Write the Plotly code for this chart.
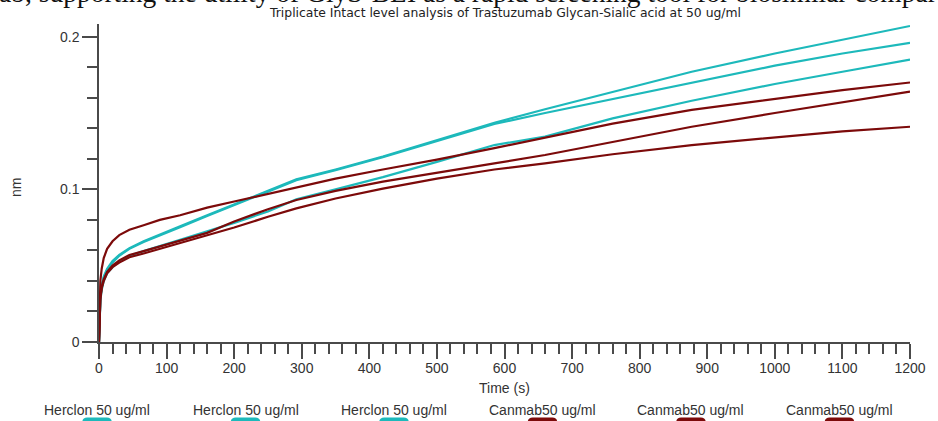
import plotly.graph_objects as go

# ---- data ----
time_s = [0, 1, 2, 4, 7, 12, 20, 30, 45, 66, 90, 120, 160, 200, 250, 292, 350,
          420, 500, 585, 660, 760, 877, 1000, 1100, 1200]

herclon_1 = [0, 0.020, 0.030, 0.037, 0.043, 0.048, 0.053, 0.057, 0.0615, 0.066, 0.0705,
             0.0758, 0.083, 0.0903, 0.099, 0.1065, 0.113, 0.1215, 0.132, 0.1435, 0.1525,
             0.164, 0.177, 0.189, 0.198, 0.207]
herclon_2 = [0, 0.019, 0.029, 0.036, 0.042, 0.047, 0.052, 0.0565, 0.061, 0.0655, 0.070,
             0.0752, 0.0825, 0.0898, 0.0985, 0.106, 0.1125, 0.121, 0.1315, 0.1428, 0.150,
             0.159, 0.170, 0.181, 0.189, 0.196]
herclon_3 = [0, 0.018, 0.027, 0.034, 0.040, 0.045, 0.049, 0.053, 0.0565, 0.0595, 0.063,
             0.067, 0.0725, 0.078, 0.0855, 0.0935, 0.100, 0.108, 0.118, 0.129, 0.1345,
             0.1465, 0.158, 0.169, 0.177, 0.185]
canmab_1 = [0, 0.030, 0.040, 0.048, 0.055, 0.061, 0.066, 0.070, 0.0735, 0.0765, 0.080,
            0.083, 0.088, 0.092, 0.097, 0.1015, 0.107, 0.113, 0.1195, 0.127, 0.134,
            0.143, 0.152, 0.159, 0.165, 0.170]
canmab_2 = [0, 0.020, 0.029, 0.036, 0.041, 0.046, 0.050, 0.0535, 0.057, 0.0595, 0.0625,
            0.066, 0.0715, 0.079, 0.087, 0.093, 0.099, 0.105, 0.111, 0.117, 0.1225,
            0.131, 0.141, 0.150, 0.157, 0.164]
canmab_3 = [0, 0.019, 0.028, 0.035, 0.040, 0.045, 0.049, 0.052, 0.0555, 0.058, 0.061,
            0.065, 0.070, 0.075, 0.082, 0.0875, 0.094, 0.1005, 0.107, 0.113, 0.117,
            0.123, 0.129, 0.134, 0.138, 0.141]

series = [herclon_1, herclon_2, herclon_3, canmab_1, canmab_2, canmab_3]
series_names = ["Herclon 50 ug/ml"] * 3 + ["Canmab50 ug/ml"] * 3

y_tickvals = [0, 0.1, 0.2]
y_ticktext = ["0", "0.1", "0.2"]
x_tickvals = list(range(0, 1201, 100))

title_text = "Triplicate Intact level analysis of Trastuzumab Glycan-Sialic acid at 50 ug/ml"
page_text = "ab, supporting the utility of GlyS-BLI as a rapid screening tool for biosimilar compar"

# ---- styling ----
CYAN = "#1DB9BB"
RED = "#7C0A0A"
colors = [CYAN] * 3 + [RED] * 3
FONT = "Liberation Sans, Arial, sans-serif"
AX = "#4a4a4a"

W, H = 938, 421
L, R, T, B = 99, 921, 24, 342


def px2x(px):
    return (px - L) / (R - L)


def py2y(py):
    return (B - py) / (B - T)


fig = go.Figure()
for vals, name, col in zip(series, series_names, colors):
    fig.add_trace(go.Scatter(x=time_s, y=vals, mode="lines", name=name,
                             line=dict(color=col, width=2.2), showlegend=False))

fig.update_layout(
    width=W, height=H,
    margin=dict(l=L, r=W - R, t=T, b=H - B),
    paper_bgcolor="white", plot_bgcolor="white",
    font=dict(family=FONT, size=14, color="#333"),
)
fig.update_xaxes(range=[0, 1200], showgrid=False, zeroline=False,
                 showline=True, linecolor=AX, linewidth=1.5,
                 ticks="outside", ticklen=15, tickcolor=AX, tickwidth=1.5,
                 ticklabelstandoff=-3,
                 tickvals=x_tickvals, tickfont=dict(size=14, color="#333"),
                 minor=dict(dtick=20, ticks="outside", ticklen=10, tickcolor=AX, tickwidth=1.5))
fig.update_yaxes(range=[0, 0.2083], showgrid=False, zeroline=False,
                 showline=True, linecolor=AX, linewidth=1.5,
                 ticks="outside", ticklen=15, tickcolor=AX, tickwidth=1.5,
                 tickvals=y_tickvals, ticktext=y_ticktext, tickfont=dict(size=14, color="#333"),
                 minor=dict(dtick=0.02, ticks="outside", ticklen=10, tickcolor=AX, tickwidth=1.5))

ann = []
ann.append(dict(text=title_text, x=px2x(510), y=py2y(12.5), xref="paper", yref="paper",
                showarrow=False, xanchor="center", yanchor="middle",
                font=dict(family="DejaVu Sans, sans-serif", size=12.4, color="#222")))
ann.append(dict(text="Time (s)", x=0.5, y=py2y(388), xref="paper", yref="paper",
                showarrow=False, xanchor="center", yanchor="middle",
                font=dict(family=FONT, size=14, color="#333")))
ann.append(dict(text="nm", x=px2x(15), y=py2y(188), xref="paper", yref="paper",
                showarrow=False, xanchor="center", yanchor="middle", textangle=-90,
                font=dict(family=FONT, size=14, color="#333")))
ann.append(dict(text=page_text, x=px2x(-4), y=py2y(10), xref="paper", yref="paper",
                showarrow=False, xanchor="left", yanchor="bottom",
                font=dict(family="Liberation Serif, serif", size=27.5, color="#111")))

shapes = []
for i, (name, col) in enumerate(zip(series_names, colors)):
    cx = 97 + 150.5 * i
    ann.append(dict(text=name, x=px2x(cx), y=py2y(410), xref="paper", yref="paper",
                    showarrow=False, xanchor="center", yanchor="middle",
                    font=dict(family=FONT, size=14, color="#333")))
    x0, x1, y0, y1, r = cx - 15, cx + 15, 417.5, 432, 5
    path = (f"M {px2x(x0)} {py2y(y1)} L {px2x(x0)} {py2y(y0 + r)} "
            f"Q {px2x(x0)} {py2y(y0)} {px2x(x0 + r)} {py2y(y0)} "
            f"L {px2x(x1 - r)} {py2y(y0)} Q {px2x(x1)} {py2y(y0)} {px2x(x1)} {py2y(y0 + r)} "
            f"L {px2x(x1)} {py2y(y1)} Z")
    shapes.append(dict(type="path", path=path, xref="paper", yref="paper",
                       fillcolor=col, line=dict(width=0)))

fig.update_layout(annotations=ann, shapes=shapes)
fig.write_html("out.html")
